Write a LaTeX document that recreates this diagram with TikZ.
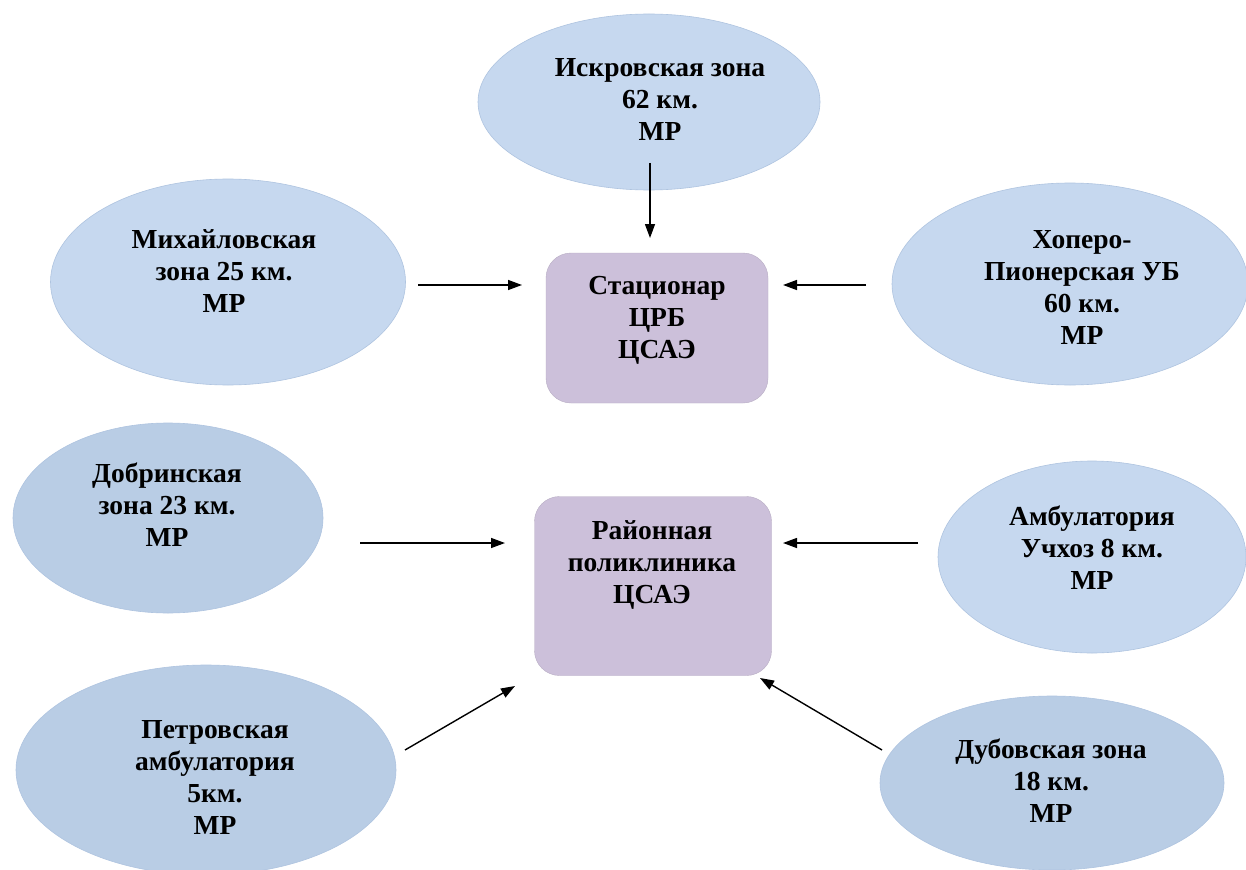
\documentclass[tikz,border=0pt]{standalone}
\usepackage{fontspec}
\setmainfont{Liberation Serif}
\usetikzlibrary{arrows.meta,shapes.geometric}
\definecolor{ellA}{HTML}{C6D8EF}
\definecolor{ellB}{HTML}{B9CDE5}
\definecolor{ellD}{HTML}{AFC4E0}
\definecolor{boxC}{HTML}{CCC0DA}
\begin{document}
\begin{tikzpicture}[x=1pt,y=-1pt,
  zone/.style={ellipse, draw=ellD, line width=0.6pt, inner sep=0pt, fill=ellA},
  zonedark/.style={zone, fill=ellB},
  center/.style={rectangle, rounded corners=25pt, fill=boxC, draw=boxC!90!black, line width=0.4pt, inner sep=0pt},
  txt/.style={align=center, font=\fontsize{27.5}{32}\selectfont\bfseries, text=black, inner sep=0pt},
  arr/.style={-{Triangle[length=14pt,width=10pt]}, line width=1.4pt, black}]
\useasboundingbox (0,0) rectangle (1246,869);
\fill[white] (0,0) rectangle (1246,869);

% ellipses
\node[zone, minimum width=342pt, minimum height=176pt] (iskra) at (649,102) {};
\node[zone, minimum width=355pt, minimum height=206pt] (mikh) at (228,282) {};
\node[zone, minimum width=356pt, minimum height=202pt] (khop) at (1070,284) {};
\node[zonedark, minimum width=310pt, minimum height=190pt] (dobr) at (168,518) {};
\node[zone, minimum width=308pt, minimum height=192pt] (amb) at (1092,557) {};
\node[zonedark, minimum width=380pt, minimum height=210pt] (petr) at (206,770) {};
\node[zonedark, minimum width=344pt, minimum height=174pt] (dub) at (1052,783) {};

% boxes
\node[center, minimum width=222pt, minimum height=150pt] (stac) at (657,328) {};
\node[center, minimum width=237pt, minimum height=179pt] (rayon) at (653,586) {};

% texts
\node[txt] (iskraT) at (660,99) {Искровская зона\\62 км.\\МР};
\node[txt] (mikhT) at (224,271) {Михайловская\\зона 25 км.\\МР};
\node[txt] (khopT) at (1082,287) {Хоперо-\\Пионерская УБ\\60 км.\\МР};
\node[txt] (dobrT) at (167,505) {Добринская\\зона 23 км.\\МР};
\node[txt] (ambT) at (1092,548) {Амбулатория\\Учхоз 8 км.\\МР};
\node[txt] (petrT) at (215,777) {Петровская\\амбулатория\\5км.\\МР};
\node[txt] (dubT) at (1051,781) {Дубовская зона\\18 км.\\МР};
\node[txt] (stacT) at (657,320) {Стационар\\ЦРБ\\ЦСАЭ};
\node[txt] (rayonT) at (652,565) {Районная\\поликлиника\\ЦСАЭ};

% arrow end points
\coordinate (a1s) at (650,163); \coordinate (a1e) at (650,238);
\coordinate (a2s) at (418,285); \coordinate (a2e) at (522,285);
\coordinate (a3s) at (866,285); \coordinate (a3e) at (783,285);
\coordinate (a4s) at (360,543); \coordinate (a4e) at (505,543);
\coordinate (a5s) at (918,543); \coordinate (a5e) at (783,543);
\coordinate (a6s) at (405,750); \coordinate (a6e) at (515,686);
\coordinate (a7s) at (882,750); \coordinate (a7e) at (760,678);

\draw[arr] (a1s) -- (a1e);
\draw[arr] (a2s) -- (a2e);
\draw[arr] (a3s) -- (a3e);
\draw[arr] (a4s) -- (a4e);
\draw[arr] (a5s) -- (a5e);
\draw[arr] (a6s) -- (a6e);
\draw[arr] (a7s) -- (a7e);
\end{tikzpicture}
\end{document}
